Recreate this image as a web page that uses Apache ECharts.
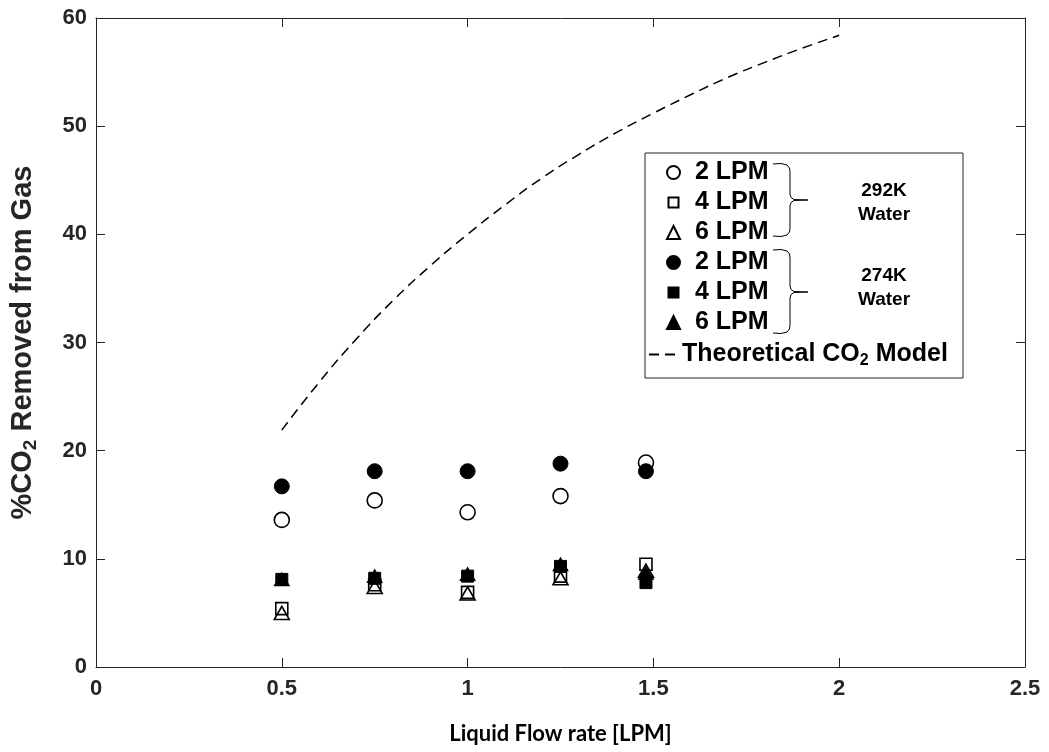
<!DOCTYPE html>
<html>
<head>
<meta charset="utf-8">
<script src="https://cdn.jsdelivr.net/npm/echarts@6/dist/echarts.min.js"></script>
<style>
  html, body { margin: 0; padding: 0; background: #fff; }
  #chart { width: 1049px; height: 752px; }
</style>
</head>
<body>
<div id="chart"></div>
<script>
// flow rates where measurements were taken
const flowRates = [0.5, 0.75, 1.0, 1.25, 1.48];

// 292K water (open markers)
const warm2 = [13.6, 15.4, 14.3, 15.8, 18.9];
const warm4 = [5.4, 7.6, 6.9, 8.4, 9.5];
const warm6 = [5.0, 7.4, 6.8, 8.2, 8.9];

// 274K water (filled markers)
const cold2 = [16.7, 18.1, 18.1, 18.8, 18.1];
const cold4 = [8.1, 8.2, 8.4, 9.3, 7.8];
const cold6 = [8.1, 8.4, 8.6, 9.5, 8.7];

// theoretical model curve
const modelX = [0.5, 0.6, 0.7, 0.8, 0.9, 1.0, 1.1, 1.2, 1.3, 1.4, 1.5, 1.6, 1.7, 1.8, 1.9, 2.0];
const modelY = [21.9, 26.3, 30.3, 33.9, 37.1, 40.0, 42.7, 45.2, 47.4, 49.4, 51.2, 52.9, 54.5, 55.9, 57.2, 58.4];

const ink = '#262626';
const font = "'Liberation Sans', Arial, sans-serif";

const pairs = (xs, ys) => xs.map((x, i) => [x, ys[i]]);

function scatter(name, data, symbol, size, filled) {
  return {
    name,
    type: 'scatter',
    data: pairs(flowRates, data),
    symbol,
    symbolSize: size,
    itemStyle: filled
      ? { color: '#000', borderColor: '#000', borderWidth: 1, opacity: 1 }
      : { color: 'rgba(0,0,0,0)', borderColor: '#000', borderWidth: 1.6, opacity: 1 },
    z: filled ? 3 : 2
  };
}

// curly brace as a polyline: x0 = hook start, xs = spine, xt = tip, y0/ym/y1 = top/mid/bottom
function brace(x0, xs, xt, y0, ym, y1) {
  return [
    [x0, y0], [x0 + 8, y0 - 0.5], [xs - 3, y0 + 1], [xs - 0.5, y0 + 4], [xs, y0 + 8],
    [xs, ym - 6], [xs + 1, ym - 2.5], [xs + 4, ym - 0.5], [xt, ym],
    [xs + 4, ym + 0.5], [xs + 1, ym + 2.5], [xs, ym + 6],
    [xs, y1 - 8], [xs - 0.5, y1 - 4], [xs - 3, y1 - 1], [x0 + 8, y1 + 0.5], [x0, y1]
  ];
}

// smaller square icon inside the 13px legend box
const smallSquare = 'path://M0,0 M13,13 M1.5,1.5 L11.5,1.5 L11.5,11.5 L1.5,11.5 Z';

const labelOf = {
  'w2': '{gap|}2 LPM', 'w4': '{gap|}4 LPM', 'w6': '{gap|}6 LPM',
  'c2': '{gap|}2 LPM', 'c4': '{gap|}4 LPM', 'c6': '{gap|}6 LPM',
  'model': 'Theoretical CO{sub|2} Model'
};

const chart = echarts.init(document.getElementById('chart'));

const axisCommon = {
  axisLine: { show: true, onZero: false, lineStyle: { color: ink, width: 1 } },
  axisTick: { show: true, inside: true, length: 9, lineStyle: { color: ink } },
  splitLine: { show: false }
};

const legendText = {
  color: '#000', fontFamily: font, fontWeight: 'bold', fontSize: 25, lineHeight: 20,
  rich: {
    gap: { width: 10 },
    sub: { fontFamily: font, fontWeight: 'bold', fontSize: 16, padding: [12, 0, 0, 0], color: '#000' }
  }
};

chart.setOption({
  animation: false,
  grid: { left: 95, right: 24, top: 18, bottom: 85 },
  xAxis: [
    {
      type: 'value', min: 0, max: 2.5, interval: 0.5, position: 'bottom',
      ...axisCommon,
      axisLabel: { color: ink, fontFamily: font, fontWeight: 'bold', fontSize: 22, margin: 11 },
      name: 'Liquid Flow rate [LPM]',
      nameLocation: 'middle',
      nameGap: 56,
      nameTextStyle: { color: '#000', fontFamily: "Lato, 'Open Sans', sans-serif", fontWeight: 'bold', fontSize: 22 }
    },
    {
      type: 'value', min: 0, max: 2.5, interval: 0.5, position: 'top',
      ...axisCommon,
      axisLabel: { show: false }
    }
  ],
  yAxis: [
    {
      type: 'value', min: 0, max: 60, interval: 10, position: 'left',
      ...axisCommon,
      axisLabel: { color: ink, fontFamily: font, fontWeight: 'bold', fontSize: 22, margin: 9 },
      name: '%CO{sub|2} Removed from Gas',
      nameLocation: 'middle',
      nameGap: 56,
      nameTextStyle: {
        color: ink, fontFamily: font, fontWeight: 'bold', fontSize: 29,
        rich: {
          sub: { fontFamily: font, fontWeight: 'bold', fontSize: 19, padding: [16, 0, 0, 0], color: ink }
        }
      }
    },
    {
      type: 'value', min: 0, max: 60, interval: 10, position: 'right',
      ...axisCommon,
      axisLabel: { show: false }
    }
  ],
  legend: [
    {
      orient: 'vertical',
      left: 661,
      top: 155,
      itemWidth: 13,
      itemHeight: 13,
      itemGap: 5,
      data: [
        { name: 'w2' }, { name: 'w4', icon: smallSquare }, { name: 'w6' },
        { name: 'c2' }, { name: 'c4', icon: smallSquare }, { name: 'c6' }
      ],
      formatter: n => labelOf[n],
      textStyle: legendText
    },
    {
      orient: 'vertical',
      left: 643,
      top: 337,
      itemWidth: 28,
      itemHeight: 13,
      data: ['model'],
      formatter: n => labelOf[n],
      itemStyle: { color: 'rgba(0,0,0,0)', borderWidth: 0, opacity: 0 },
      textStyle: legendText
    }
  ],
  graphic: [
    {
      type: 'rect',
      shape: { x: 645, y: 153, width: 318, height: 225 },
      style: { fill: 'none', stroke: ink, lineWidth: 1 },
      silent: true
    },
    {
      type: 'polyline',
      shape: { points: brace(773, 790, 808, 164, 200, 236) },
      style: { fill: 'none', stroke: '#000', lineWidth: 1 },
      silent: true
    },
    {
      type: 'polyline',
      shape: { points: brace(773, 790, 808, 250, 292, 333) },
      style: { fill: 'none', stroke: '#000', lineWidth: 1 },
      silent: true
    },
    {
      type: 'text', x: 884, y: 203,
      style: { text: '292K\nWater', fill: '#000', font: "bold 19px 'Liberation Sans', Arial, sans-serif", align: 'center', verticalAlign: 'middle', lineHeight: 24 },
      silent: true
    },
    {
      type: 'text', x: 884, y: 288,
      style: { text: '274K\nWater', fill: '#000', font: "bold 19px 'Liberation Sans', Arial, sans-serif", align: 'center', verticalAlign: 'middle', lineHeight: 24 },
      silent: true
    }
  ],
  series: [
    scatter('w2', warm2, 'circle', 15, false),
    scatter('w4', warm4, 'rect', 12, false),
    scatter('w6', warm6, 'triangle', [15, 13], false),
    scatter('c2', cold2, 'circle', 15, true),
    scatter('c4', cold4, 'rect', 12, true),
    scatter('c6', cold6, 'triangle', [15, 13], true),
    {
      name: 'model',
      type: 'line',
      data: pairs(modelX, modelY),
      smooth: true,
      showSymbol: false,
      symbol: 'none',
      lineStyle: { color: '#000', width: 1.5, type: [10, 6] },
      itemStyle: { color: '#000' }
    }
  ]
});
</script>
</body>
</html>
